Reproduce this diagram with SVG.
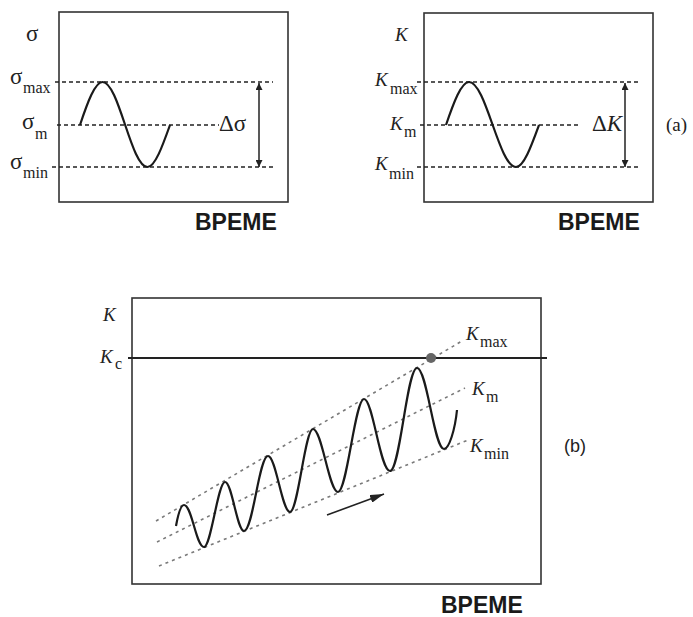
<svg xmlns="http://www.w3.org/2000/svg" width="693" height="617" viewBox="0 0 693 617">
<style>
.box{fill:none;stroke:#333;stroke-width:1.6}
.dash{fill:none;stroke:#222;stroke-width:1.3;stroke-dasharray:4 3}
.dot{fill:none;stroke:#7a7a7a;stroke-width:1.6;stroke-dasharray:3 4}
.wave{fill:none;stroke:#1a1a1a;stroke-width:2.2}
.arr{fill:none;stroke:#222;stroke-width:1.5}
.sym{font-family:"Liberation Serif","DejaVu Serif",serif;fill:#222;font-size:23px}
.it{font-family:"Liberation Serif","DejaVu Serif",serif;font-style:italic;fill:#222;font-size:19px}
.sub{font-family:"Liberation Serif","DejaVu Serif",serif;fill:#222;font-size:16px}
.big{font-family:"Liberation Sans",Arial,sans-serif;font-weight:bold;fill:#1a1a1a;font-size:23px}
.tag{font-family:"Liberation Serif","DejaVu Serif",serif;fill:#222;font-size:19px}
</style>
<defs>
<marker id="ah" viewBox="0 0 10 10" refX="10" refY="5" markerWidth="9" markerHeight="7" markerUnits="userSpaceOnUse" orient="auto-start-reverse">
<path d="M0,0 L10,5 L0,10 Z" fill="#222"/>
</marker>
<marker id="ah2" viewBox="0 0 14 8" refX="14" refY="4" markerWidth="14" markerHeight="8" markerUnits="userSpaceOnUse" orient="auto">
<path d="M0,0 L14,4 L0,8 Z" fill="#222"/>
</marker>
</defs>

<g id="panel-sigma">
<rect class="box" x="59" y="12" width="229" height="190"/>
<text class="sym" x="26" y="41">σ</text>
<text class="sym" x="10" y="84">σ</text><text class="sub" x="23" y="93">max</text>
<text class="sym" x="22" y="129">σ</text><text class="sub" x="35" y="139">m</text>
<text class="sym" x="10" y="169">σ</text><text class="sub" x="23" y="178">min</text>
<text class="sym" x="219" y="131">Δσ</text>
<text class="big" x="195" y="230">BPEME</text>
</g>

<g id="panel-k">
<rect class="box" x="424" y="13" width="229" height="189"/>
<text class="it" x="395" y="41">K</text>
<text class="it" x="375" y="86">K</text><text class="sub" x="390" y="94">max</text>
<text class="it" x="390" y="130">K</text><text class="sub" x="404" y="137">m</text>
<text class="it" x="375" y="170">K</text><text class="sub" x="389" y="179">min</text>
<text class="sym" x="592" y="131" font-size="20">Δ<tspan font-style="italic">K</tspan></text>
<text class="tag" x="666" y="131">(a)</text>
<text class="big" x="558" y="230">BPEME</text>
</g>

<g id="panel-b">
<rect class="box" x="132" y="298" width="409" height="286"/>
<text class="it" x="103" y="321">K</text>
<text class="it" x="100" y="363">K</text><text class="sub" x="115" y="369">c</text>
<text class="it" x="466" y="340">K</text><text class="sub" x="480" y="347">max</text>
<text class="it" x="472" y="395">K</text><text class="sub" x="486" y="402">m</text>
<text class="it" x="470" y="452">K</text><text class="sub" x="484" y="459">min</text>
<text x="564" y="452" font-family="Liberation Sans, Arial, sans-serif" font-size="18" fill="#222">(b)</text>
<text class="big" x="441" y="613">BPEME</text>
</g>

<g id="connectors">
<line class="dash" x1="55" y1="82" x2="273" y2="82"/>
<line class="dash" x1="57" y1="125" x2="219" y2="125"/>
<line class="dash" x1="52" y1="167" x2="273" y2="167"/>
<line class="arr" x1="259" y1="83" x2="259" y2="167" marker-start="url(#ah)" marker-end="url(#ah)"/>
<path class="wave" d="M80,125 C87.5,102.5 95,82 102.5,82 C118.9,82 131.1,167 147.5,167 C155,167 162.5,146 170,125"/>
<line class="dash" x1="417" y1="82" x2="638" y2="82"/>
<line class="dash" x1="420" y1="125" x2="580" y2="125"/>
<line class="dash" x1="417" y1="167" x2="638" y2="167"/>
<line class="arr" x1="625" y1="83" x2="625" y2="167" marker-start="url(#ah)" marker-end="url(#ah)"/>
<path class="wave" d="M446,125 C453.7,102.5 461.3,82 469,82 C486,82 499,167 516,167 C523.7,167 531.3,146 539,125"/>
<line x1="128" y1="358" x2="547" y2="358" stroke="#222" stroke-width="1.8"/>
<line class="dot" x1="156" y1="521" x2="462" y2="341"/>
<line class="dot" x1="157" y1="542" x2="465" y2="388"/>
<line class="dot" x1="159" y1="566" x2="468" y2="440"/>
<circle cx="431" cy="358" r="5" fill="#666"/>
<path class="wave" d="M176,526 C178,515 181,505 184,505 C192,505 196,547 204,547 C211,547 218,482 225,482 C232,482 237,531 244,531 C253,531 259,456 268,456 C276,456 282,512 290,512 C298,512 305,429 313,429 C322,429 329,492 338,492 C347,492 355,399 364,399 C373,399 380,471 390,471 C400,471 407,368 417,368 C427,368 434,449 444,449 C449,449 455,430 457,410"/>
<line x1="327" y1="515" x2="384" y2="494" stroke="#222" stroke-width="1.6" marker-end="url(#ah2)"/>
</g>
</svg>
